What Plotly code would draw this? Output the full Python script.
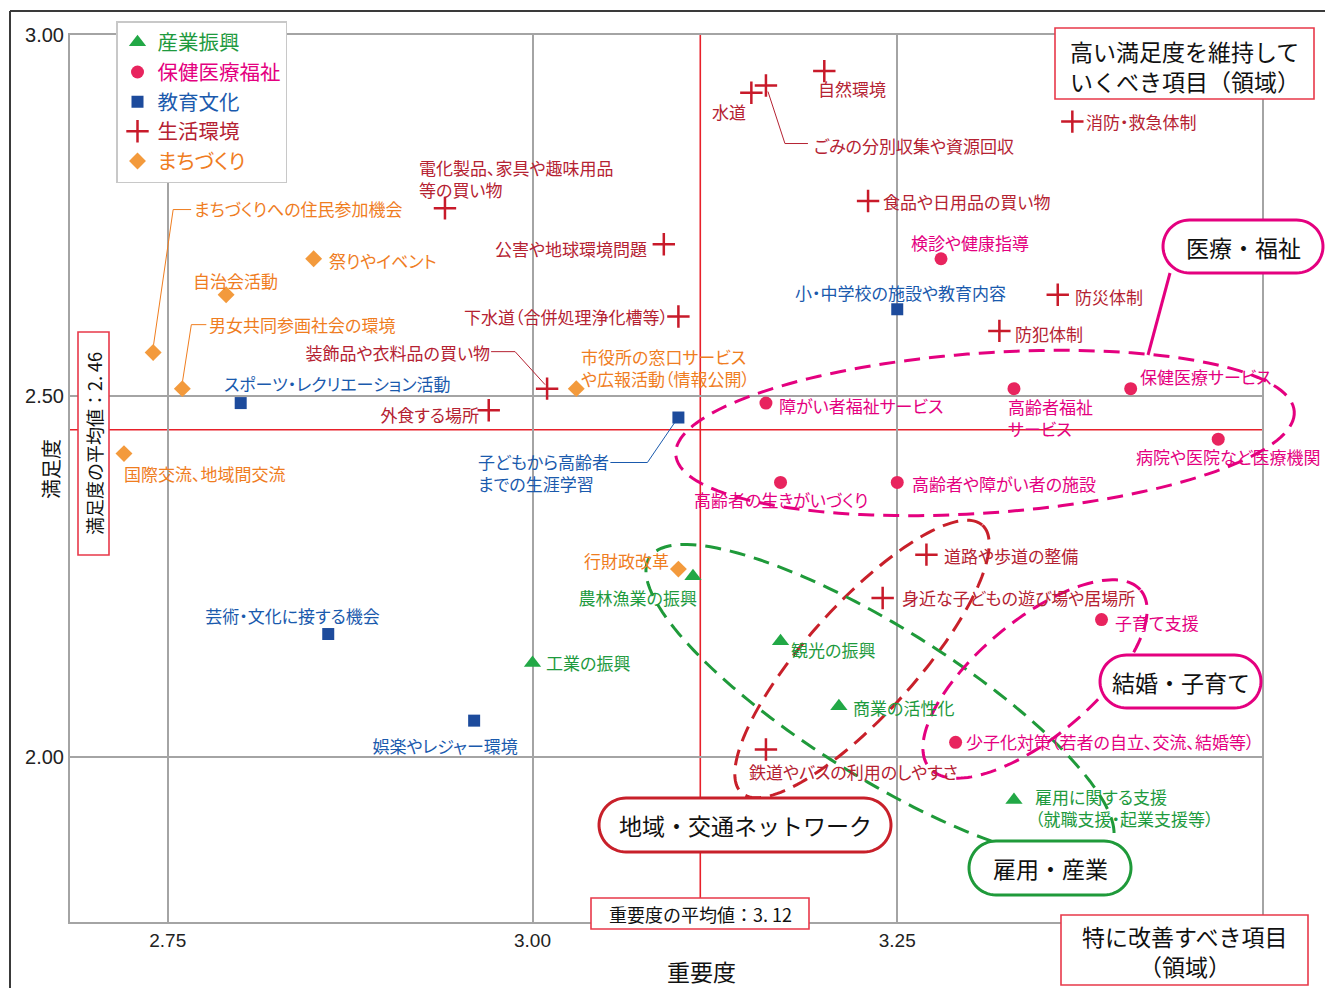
import numpy as np
import plotly.graph_objects as go

JP = "Noto Sans CJK JP"

# ---------------- data ----------------
cat_names = ["産業振興", "保健医療福祉", "教育文化", "生活環境", "まちづくり"]

ind_labels = ["農林漁業の振興", "工業の振興", "観光の振興", "商業の活性化",
              "雇用に関する支援<br>（就職支援・起業支援等）"]
ind_x = [3.11, 3.00, 3.17, 3.21, 3.33]
ind_y = [2.25, 2.13, 2.16, 2.07, 1.94]

hlt_labels = ["検診や健康指導", "障がい者福祉サービス", "高齢者福祉<br>サービス", "保健医療サービス",
              "病院や医院など医療機関", "高齢者の生きがいづくり", "高齢者や障がい者の施設",
              "子育て支援", "少子化対策（若者の自立、交流、結婚等）"]
hlt_x = [3.28, 3.16, 3.33, 3.41, 3.47, 3.17, 3.25, 3.39, 3.29]
hlt_y = [2.69, 2.49, 2.51, 2.51, 2.44, 2.38, 2.38, 2.19, 2.02]

edu_labels = ["スポーツ・レクリエーション活動", "小・中学校の施設や教育内容",
              "子どもから高齢者<br>までの生涯学習", "芸術・文化に接する機会", "娯楽やレジャー環境"]
edu_x = [2.80, 3.25, 3.10, 2.86, 2.96]
edu_y = [2.49, 2.62, 2.47, 2.17, 2.05]

liv_labels = ["自然環境", "水道", "ごみの分別収集や資源回収", "消防・救急体制",
              "電化製品、家具や趣味用品<br>等の買い物", "食品や日用品の買い物", "公害や地球環境問題",
              "防災体制", "下水道（合併処理浄化槽等）", "防犯体制", "装飾品や衣料品の買い物",
              "外食する場所", "道路や歩道の整備", "身近な子どもの遊び場や居場所", "鉄道やバスの利用のしやすさ"]
liv_x = [3.20, 3.15, 3.16, 3.37, 2.94, 3.23, 3.09, 3.36, 3.10, 3.32, 3.01, 2.97, 3.27, 3.24, 3.16]
liv_y = [2.95, 2.92, 2.93, 2.88, 2.76, 2.77, 2.71, 2.64, 2.61, 2.59, 2.51, 2.48, 2.28, 2.22, 2.01]

twn_labels = ["まちづくりへの住民参加機会", "男女共同参画社会の環境", "自治会活動", "祭りやイベント",
              "国際交流、地域間交流", "市役所の窓口サービス<br>や広報活動（情報公開）", "行財政改革"]
twn_x = [2.74, 2.76, 2.79, 2.85, 2.72, 3.03, 3.10]
twn_y = [2.56, 2.51, 2.64, 2.69, 2.42, 2.51, 2.26]

mean_importance = 3.115
mean_satisfaction = 2.453
x_ticks = [2.75, 3.00, 3.25, 3.50]
x_ticktext = ["2.75", "3.00", "3.25", ""]
y_ticks = [2.00, 2.50, 3.00]
y_ticktext = ["2.00", "2.50", "3.00"]

# ---------------- layout geometry (pixels) ----------------
W, H = 1325, 988
L, R, T, B = 70, 1262, 35, 922
X0, X1 = 2.683, 3.50
Y0, Y1 = 1.771, 3.00
PXU = (R - L) / (X1 - X0)
PYU = (B - T) / (Y1 - Y0)
LABEL_SIZE = 17


def ppx(px):
    return (px - L) / (R - L)


def ppy(py):
    return (B - py) / (B - T)


# label offsets: (xanchor, dx, dy) in screen pixels from the marker (dy down)
ind_off = [("right", 5, 21), ("left", 12, 0), ("left", 9, 8), ("left", 13, 1), ("left", 20, 7.5)]
hlt_off = [("left", -31, -16), ("left", 12, 2), ("left", -7, 28.5), ("left", 8, -12),
           ("left", -83, 17), ("left", -88, 17), ("left", 14, 1), ("left", 12, 3), ("left", 9, -1)]
edu_off = [("left", -18, -20), ("center", 3, -17), ("left", -201, 55), ("center", -36, -19),
           ("center", -29, 25)]
liv_off = [("left", -7, 17), ("right", -4, 19), ("left", 47, 60), ("left", 13, 0),
           ("left", -27, -29.5), ("left", 14, 0), ("right", -16, 4), ("left", 16, 2),
           ("right", -9, 0), ("left", 15, 3), ("right", -56, -36), ("right", -9, 4),
           ("left", 17, 1), ("left", 18, 0), ("left", -18, 22)]
twn_off = [("left", 40, -144), ("left", 26, -64), ("left", -34, -14), ("left", 14, 2),
           ("left", -1, 20), ("left", 4, -21.5), ("right", -8, -9)]

# leader lines: (category index, item index, list of screen-pixel offsets from marker)
leaders = [
    (4, 0, [(0, -5), (20, -143), (38, -143)]),
    (4, 1, [(0, -6), (9, -64), (24, -64)]),
    (2, 2, [(-68, 45), (-31, 45), (-3, 4)]),
    (3, 2, [(2, 6), (19, 58), (42, 58)]),
    (3, 10, [(-56, -37), (-32, -37), (-2, -4)]),
]

cats = [
    dict(labels=ind_labels, x=ind_x, y=ind_y, off=ind_off, symbol="triangle-up", size=15,
         mcolor="#22a846", tcolor="#1e9a3e"),
    dict(labels=hlt_labels, x=hlt_x, y=hlt_y, off=hlt_off, symbol="circle", size=13,
         mcolor="#e8245e", tcolor="#e4007f"),
    dict(labels=edu_labels, x=edu_x, y=edu_y, off=edu_off, symbol="square", size=12,
         mcolor="#1d4b9c", tcolor="#1a5aad"),
    dict(labels=liv_labels, x=liv_x, y=liv_y, off=liv_off, symbol="cross-thin", size=16,
         mcolor="#c81a2a", tcolor="#b52232"),
    dict(labels=twn_labels, x=twn_x, y=twn_y, off=twn_off, symbol="diamond", size=13,
         mcolor="#f39a3c", tcolor="#ef7d1f"),
]

fig = go.Figure()

# leader lines first (under markers)
for ci, ii, pts in leaders:
    c = cats[ci]
    xv, yv = c["x"][ii], c["y"][ii]
    fig.add_trace(go.Scatter(
        x=[xv + dx / PXU for dx, dy in pts], y=[yv - dy / PYU for dx, dy in pts],
        mode="lines", line=dict(color=c["tcolor"], width=1), showlegend=False, hoverinfo="skip"))

n_label_ann = 0
for i, c in enumerate(cats):
    marker = dict(symbol=c["symbol"], size=c["size"], color=c["mcolor"])
    if c["symbol"] == "cross-thin":
        marker["line"] = dict(color=c["mcolor"], width=2.5)
    fig.add_trace(go.Scatter(
        x=c["x"], y=c["y"], mode="markers", marker=marker,
        name=f"<span style='color:{c['tcolor']}'>{cat_names[i]}</span>",
        legendgroup=cat_names[i], text=[t.replace("<br>", "") for t in c["labels"]],
        hovertemplate="%{text}<br>重要度 %{x}<br>満足度 %{y}<extra></extra>"))
    for (lab, xv, yv, (anc, dx, dy)) in zip(c["labels"], c["x"], c["y"], c["off"]):
        fig.add_annotation(x=xv, y=yv, xref="x", yref="y", text=lab, showarrow=False,
                           xanchor=anc, yanchor="middle", xshift=dx, yshift=-dy, align=anc,
                           borderpad=0,
                           font=dict(family=JP, size=LABEL_SIZE, color=c["tcolor"]))
        n_label_ann += 1

shapes = []
# mean lines
shapes.append(dict(type="line", xref="x", yref="paper", x0=mean_importance, x1=mean_importance,
                   y0=0, y1=1, line=dict(color="#e8202a", width=1.6), layer="between"))
shapes.append(dict(type="line", xref="paper", yref="y", x0=0, x1=1, y0=mean_satisfaction,
                   y1=mean_satisfaction, line=dict(color="#e8202a", width=1.6), layer="between"))


def path_from(pts):
    return "M " + " L ".join(f"{ppx(x):.5f},{ppy(y):.5f}" for x, y in pts) + " Z"


def ellipse(cx, cy, a, b, deg, n=160):
    th = np.radians(deg)
    u = np.array([np.cos(th), np.sin(th)])
    v = np.array([-np.sin(th), np.cos(th)])
    t = np.linspace(0, 2 * np.pi, n, endpoint=False)
    return [(cx + a * np.cos(tt) * u[0] + b * np.sin(tt) * v[0],
             cy + a * np.cos(tt) * u[1] + b * np.sin(tt) * v[1]) for tt in t]


def stadium(x0, y0, x1, y1, n=30):
    r = (y1 - y0) / 2
    cy = (y0 + y1) / 2
    pts = []
    for t in np.linspace(-np.pi / 2, np.pi / 2, n):
        pts.append((x1 - r + r * np.cos(t), cy + r * np.sin(t)))
    for t in np.linspace(np.pi / 2, 3 * np.pi / 2, n):
        pts.append((x0 + r + r * np.cos(t), cy + r * np.sin(t)))
    return pts


DASH = "16px,9px"
PINK, RED, GREEN = "#e4007f", "#c8202a", "#1f9a3a"
loops = [
    (ellipse(985, 433, 310, 80, -4), PINK),
    (ellipse(862, 659, 180, 55, -48), RED),
    (ellipse(880, 702, 272, 75, 32), GREEN),
    (ellipse(1035, 679, 138, 58, -40), PINK),
]
for pts, col in loops:
    shapes.append(dict(type="path", xref="paper", yref="paper", path=path_from(pts),
                       line=dict(color=col, width=3, dash=DASH), layer="above"))

# connector for 医療・福祉
shapes.append(dict(type="line", xref="paper", yref="paper", x0=ppx(1170), y0=ppy(273),
                   x1=ppx(1148), y1=ppy(355), line=dict(color=PINK, width=3), layer="above"))

callouts = [
    ((1163, 220, 1323, 273), PINK, "医療・福祉"),
    ((1100, 655, 1261, 708), PINK, "結婚・子育て"),
    ((599, 798, 891, 852), RED, "地域・交通ネットワーク"),
    ((969, 841, 1131, 895), GREEN, "雇用・産業"),
]
for (x0, y0, x1, y1), col, txt in callouts:
    shapes.append(dict(type="path", xref="paper", yref="paper", path=path_from(stadium(x0, y0, x1, y1)),
                       line=dict(color=col, width=3), fillcolor="white", layer="above"))
    fig.add_annotation(x=ppx((x0 + x1) / 2), y=ppy((y0 + y1) / 2), xref="paper", yref="paper",
                       text=txt, showarrow=False, xanchor="center", yanchor="middle",
                       font=dict(family=JP, size=23, color="#111"))

# rectangular notes: box, list of (line text, centre y), font size, angle
BOXRED = "#e8394a"
notes = [
    ((1055, 28, 1314, 99), [("高い満足度を維持して", 51), ("いくべき項目（領域）", 81)], 23, 0),
    ((1061, 915, 1308, 985), [("特に改善すべき項目", 936), ("（領域）", 966)], 23, 0),
    ((591, 898, 809, 929), [("重要度の平均値：3. 12", 913.5)], 18, 0),
    ((78, 332, 109, 555), [("満足度の平均値：2. 46", 443.5)], 18, -90),
]
for (x0, y0, x1, y1), lines, fs, ang in notes:
    shapes.append(dict(type="rect", xref="paper", yref="paper", x0=ppx(x0), x1=ppx(x1),
                       y0=ppy(y1), y1=ppy(y0), line=dict(color=BOXRED, width=1.6),
                       fillcolor="white", layer="above"))
    for txt, cy in lines:
        fig.add_annotation(x=ppx((x0 + x1) / 2), y=ppy(cy), xref="paper", yref="paper",
                           text=txt, showarrow=False, xanchor="center", yanchor="middle",
                           textangle=ang, borderpad=0,
                           font=dict(family=JP, size=fs, color="#111"))

# outer page frame
FRAME = "#3a3a3a"
shapes.append(dict(type="line", xref="paper", yref="paper", x0=ppx(10), x1=ppx(10),
                   y0=ppy(11), y1=ppy(990), line=dict(color=FRAME, width=2), layer="above"))
shapes.append(dict(type="line", xref="paper", yref="paper", x0=ppx(10), x1=ppx(1330),
                   y0=ppy(11), y1=ppy(11), line=dict(color=FRAME, width=2), layer="above"))

# axis titles
fig.add_annotation(x=ppx(701), y=ppy(971), xref="paper", yref="paper", text="重要度", showarrow=False,
                   xanchor="center", yanchor="middle", borderpad=0,
                   font=dict(family=JP, size=23, color="#111"))
fig.add_annotation(x=ppx(50), y=ppy(469), xref="paper", yref="paper", text="満足度", showarrow=False,
                   xanchor="center", yanchor="middle", textangle=-90,
                   font=dict(family=JP, size=20, color="#111"))

GRID = "#a4a4a4"
fig.update_layout(
    width=W, height=H, margin=dict(l=L, r=W - R, t=T, b=H - B),
    paper_bgcolor="white", plot_bgcolor="white",
    shapes=shapes, showlegend=True,
    legend=dict(x=ppx(116), y=ppy(21), xanchor="left", yanchor="top",
                bgcolor="white", bordercolor="#c8c8c8", borderwidth=1.5,
                font=dict(family=JP, size=20.5), tracegroupgap=0),
    xaxis=dict(range=[X0, X1], tickvals=x_ticks, ticktext=x_ticktext, showgrid=True,
               gridcolor=GRID, gridwidth=2, zeroline=False, showline=True, linecolor=GRID,
               linewidth=2, mirror=True, ticks="", ticklabelstandoff=0,
               tickfont=dict(family="Liberation Sans", size=19, color="#222")),
    yaxis=dict(range=[Y0, Y1], tickvals=y_ticks, ticktext=y_ticktext, showgrid=True,
               gridcolor=GRID, gridwidth=2, zeroline=False, showline=True, linecolor=GRID,
               linewidth=2, mirror=True, ticks="", ticklabelstandoff=0,
               tickfont=dict(family="Liberation Sans", size=20, color="#222")),
    font=dict(family=JP),
)

post = """
document.body.style.margin='0';document.body.style.overflow='hidden';
(function(){
  var gd = document.getElementById('{plot_id}');
  function palt(){
    if(!gd) return;
    gd.querySelectorAll('g.annotation').forEach(function(g){
      var i = parseInt(g.getAttribute('data-index'));
      if(i < NLAB){ g.querySelectorAll('text').forEach(function(t){ t.style.fontFeatureSettings='"palt" 1'; }); }
    });
    gd.querySelectorAll('text.legendtext').forEach(function(t){ t.style.fontFeatureSettings='"palt" 1'; });
  }
  palt(); setTimeout(palt, 30); setTimeout(palt, 300);
})();
""".replace("NLAB", str(n_label_ann))

fig.write_html("out.html", config={"displayModeBar": False}, post_script=post)
